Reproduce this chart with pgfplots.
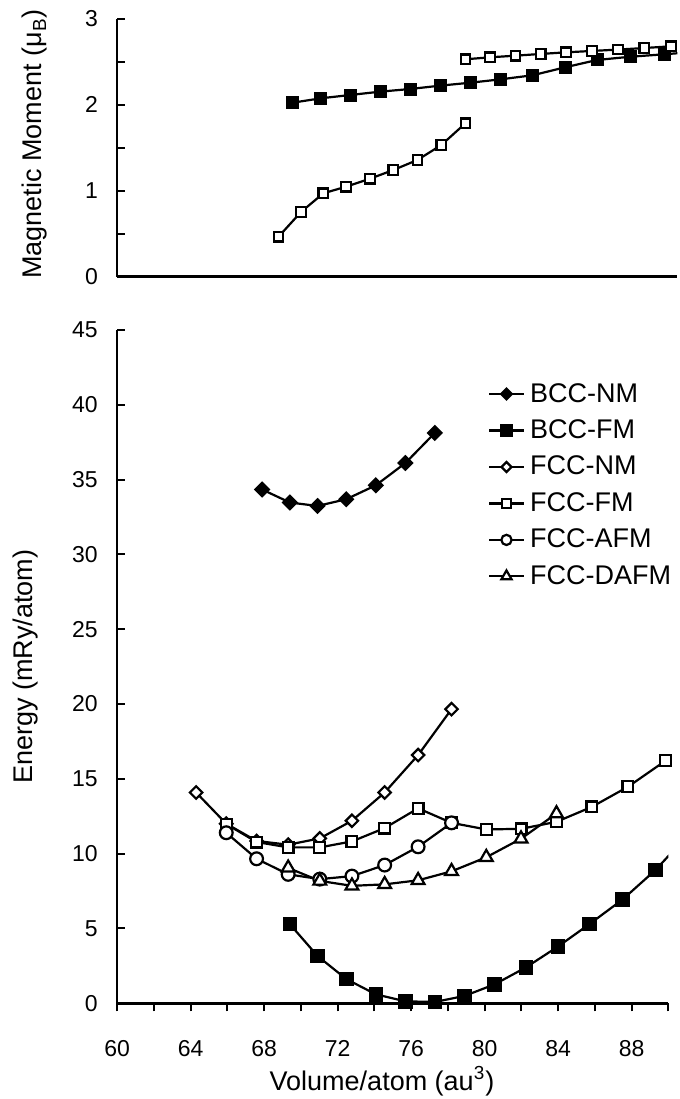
\documentclass[border=0pt]{standalone}
\usepackage{fontspec}
\setmainfont{Liberation Sans}
\usepackage{pgfplots}
\pgfplotsset{compat=1.18}

\pgfplotsset{
  base/.style={
    scale only axis,
    axis lines*=left,
    axis line style={line width=1.2pt, black},
    tick style={line width=1pt, black},
    xmin=60, xmax=90,
    /pgf/number format/assume math mode=true,
    tick label style={font=\fontsize{11.5}{13}\selectfont},
    label style={font=\fontsize{13.5}{15}\selectfont},
  },
  ser/.style={black, line width=1.1pt, mark options={solid, line width=0.6pt, draw=black}},
}

\begin{document}
\begin{tikzpicture}
\useasboundingbox (0pt,0pt) rectangle (340pt,549.5pt);

% ---------------- top panel ----------------
\begin{axis}[base,
  at={(58.65pt,411.15pt)}, anchor=south west,
  width=280pt, height=128.85pt,
  ymin=0, ymax=3,
  tick align=inside,
  major tick length=3.8pt,
  minor tick length=2.5pt,
  xtick=\empty,
  minor xtick={60,62,...,90},
  ytick={0,0.5,...,3},
  yticklabels={0,,1,,2,,3},
  yticklabel style={xshift=-6.2pt},
  ylabel={Magnetic Moment (μ\textsubscript{B})},
  ylabel style={at={(axis description cs:-0.135,0.515)}, anchor=base},
]
\addplot[ser, mark=square*, mark size=2.7pt, mark options={fill=black}] coordinates {
(69.40,2.026) (70.91,2.077) (72.47,2.115) (74.08,2.154) (75.69,2.185)
(77.29,2.224) (78.90,2.258) (80.55,2.298) (82.25,2.345) (84.00,2.438)
(85.70,2.523) (87.50,2.561) (89.29,2.589) (91.10,2.620)};
\addplot[ser, mark=square*, mark size=2.4pt, mark options={fill=white}] coordinates {
(68.64,0.466) (69.84,0.753) (71.04,0.971) (72.26,1.048) (73.54,1.141)
(74.79,1.242) (76.08,1.359) (77.36,1.533) (78.65,1.786)};
\addplot[ser, mark=square*, mark size=2.4pt, mark options={fill=white}] coordinates {
(78.65,2.531) (79.97,2.554) (81.33,2.573) (82.68,2.593) (84.04,2.612)
(85.44,2.628) (86.83,2.644) (88.23,2.662) (89.66,2.682)};
\end{axis}

% ---------------- bottom panel: y axis overlay ----------------
\begin{axis}[base,
  at={(58.55pt,47.85pt)}, anchor=south west,
  width=275.65pt, height=336.65pt,
  ymin=0, ymax=45,
  tick align=inside,
  major tick length=3.8pt,
  xtick=\empty,
  ytick={0,5,...,45},
  yticklabel style={xshift=-6.2pt},
  ylabel={Energy (mRy/atom)},
  ylabel style={at={(axis description cs:-0.1531,0.5)}, anchor=base},
]
\end{axis}

% ---------------- bottom panel: data ----------------
\begin{axis}[base,
  at={(58.55pt,47.85pt)}, anchor=south west,
  width=275.65pt, height=336.65pt,
  ymin=0, ymax=45,
  tick align=outside,
  major tick length=4pt,
  xtick={60,62,...,90},
  xticklabels={60,,64,,68,,72,,76,,80,,84,,88,},
  ytick=\empty,
  xticklabel style={yshift=-11pt},
  xlabel={Volume/atom (au\textsuperscript{3})},
  xlabel style={at={(axis description cs:0.4805,-0.1288)}, anchor=base},
  legend cell align=left,
  legend image post style={every mark/.append style={scale=0.8}},
  legend style={at={(axis cs:80.2,41.58)}, anchor=north west,
    draw=none, fill=none, inner sep=0pt, outer sep=0pt,
    font=\fontsize{13.5}{15}\selectfont, row sep=5.3pt,
    nodes={inner sep=1pt},
    /tikz/every odd column/.append style={column sep=1.7pt}},
]
\addplot[ser, mark=square*, mark size=2.35pt, mark options={rotate=45, fill=black}] coordinates {
(67.89,34.34) (69.40,33.47) (70.91,33.24) (72.47,33.69) (74.08,34.62) (75.69,36.11) (77.29,38.12)};
\addlegendentry{BCC-NM}
\addplot[ser, mark=square*, mark size=3.1pt, mark options={fill=black}] coordinates {
(69.40,5.29) (70.91,3.16) (72.47,1.62) (74.08,0.60) (75.69,0.13) (77.29,0.09)
(78.90,0.49) (80.55,1.27) (82.25,2.40) (84.00,3.80) (85.70,5.29) (87.50,6.93)
(89.29,8.90) (91.10,11.30)};
\addlegendentry{BCC-FM}
\addplot[ser, mark=square*, mark size=2.2pt, mark options={rotate=45, fill=white}] coordinates {
(64.30,14.09) (65.94,12.00) (67.59,10.85) (69.31,10.60) (71.03,11.02) (72.78,12.20)
(74.56,14.09) (76.38,16.59) (78.20,19.66)};
\addlegendentry{FCC-NM}
\addplot[ser, mark=square*, mark size=2.7pt, mark options={fill=white}] coordinates {
(65.94,11.98) (67.59,10.78) (69.31,10.42) (71.03,10.42) (72.78,10.82) (74.56,11.71)
(76.38,13.03) (78.20,12.06) (80.09,11.62) (81.98,11.66) (83.91,12.13) (85.84,13.13)
(87.80,14.47) (89.84,16.21)};
\addlegendentry{FCC-FM}
\addplot[ser, mark=*, mark size=3.2pt, mark options={fill=white}] coordinates {
(65.94,11.40) (67.59,9.66) (69.31,8.62) (71.03,8.30) (72.78,8.50) (74.56,9.24)
(76.38,10.46) (78.20,12.06)};
\addlegendentry{FCC-AFM}
\addplot[ser, mark=triangle*, mark size=3.7pt, mark options={fill=white}] coordinates {
(69.31,9.05) (71.03,8.18) (72.78,7.85) (74.56,7.95) (76.38,8.22) (78.20,8.82)
(80.09,9.76) (81.98,11.00) (83.91,12.68)};
\addlegendentry{FCC-DAFM}
\end{axis}
\end{tikzpicture}
\end{document}
